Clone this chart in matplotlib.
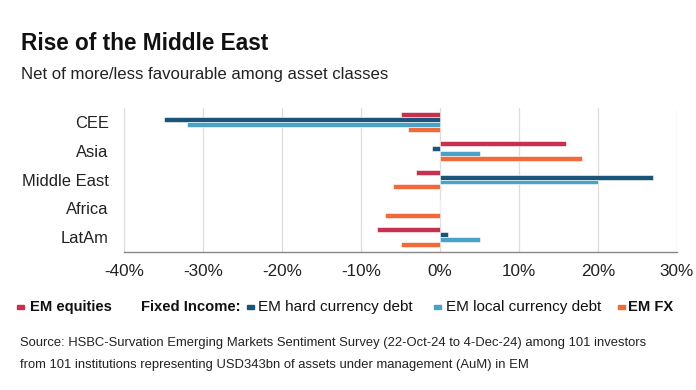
import matplotlib
matplotlib.use("Agg")
import matplotlib.pyplot as plt
import numpy as np
from matplotlib.patches import Rectangle

plt.rcParams['font.family'] = ['Liberation Sans', 'DejaVu Sans']

regions = ["CEE", "Asia", "Middle East", "Africa", "LatAm"]
em_equities = [-5, 16, -3, 0, -8]
em_hard_debt = [-35, -1, 27, 0, 1]
em_local_debt = [-32, 5, 20, 0, 5]
em_fx = [-4, 18, -6, -7, -5]
x_ticks = [-40, -30, -20, -10, 0, 10, 20, 30]
x_tick_labels = ["-40%", "-30%", "-20%", "-10%", "0%", "10%", "20%", "30%"]

series = [em_equities, em_hard_debt, em_local_debt, em_fx]
colors = ["#C8304F", "#1B5479", "#4AA2C8", "#F06A3A"]

W, H = 696, 390
fig = plt.figure(figsize=(W / 100, H / 100), dpi=100)
ax = fig.add_axes([124 / W, 1 - 251.5 / H, (677 - 124) / W, (251.5 - 107.7) / H])

y = np.arange(len(regions))
h = 0.17
for i, (vals, c) in enumerate(zip(series, colors)):
    ax.barh(y + (i - 1.5) * h, vals, height=h, color=c, edgecolor="#ffffff",
            linewidth=0.4, zorder=3)

ax.set_xlim(-40, 30)
ax.set_ylim(len(regions) - 0.5, -0.5)
ax.set_yticks(y)
ax.set_yticklabels(regions, fontsize=11.9, color="#222222")
ax.set_xticks(x_ticks)
ax.set_xticklabels(x_tick_labels, fontsize=12.3, color="#222222")
for lbl in ax.get_yticklabels():
    lbl.set_verticalalignment("center_baseline")
ax.tick_params(axis="both", length=0)
ax.tick_params(axis="y", pad=11)
ax.tick_params(axis="x", pad=9)
ax.grid(axis="x", color="#dddddd", linewidth=0.9, zorder=0)
for s in ["top", "right"]:
    ax.spines[s].set_visible(False)
ax.spines["left"].set_color("#dddddd")
ax.spines["bottom"].set_color("#888888")
ax.spines["bottom"].set_linewidth(1.0)

fig.text(21 / W, 1 - 49.5 / H, "Rise of the Middle East", fontsize=16.3,
         fontweight="bold", color="#111111", ha="left", va="baseline")
fig.text(21 / W, 1 - 78.5 / H, "Net of more/less favourable among asset classes",
         fontsize=12.1, color="#222222", ha="left", va="baseline")

# legend
leg_base = 1 - 311 / H
items = [
    (17, colors[0], 30, "EM equities", "bold"),
    (None, None, 141, "Fixed Income:", "bold"),
    (247, colors[1], 258, "EM hard currency debt", "normal"),
    (434, colors[2], 446, "EM local currency debt", "normal"),
    (618, colors[3], 628, "EM FX", "bold"),
]
for mx, mc, tx, label, wt in items:
    if mx is not None:
        fig.patches.append(Rectangle((mx / W, 1 - 309 / H), 6.5 / W, 4.5 / H,
                                     transform=fig.transFigure, color=mc))
    fig.text(tx / W, leg_base, label, fontsize=10.6 if wt == "bold" else 11,
             fontweight=wt, color="#111111", ha="left", va="baseline")

fig.text(20 / W, 1 - 346 / H,
         "Source: HSBC-Survation Emerging Markets Sentiment Survey (22-Oct-24 to 4-Dec-24) among 101 investors",
         fontsize=9.33, color="#222222", ha="left", va="baseline")
fig.text(20 / W, 1 - 368 / H,
         "from 101 institutions representing USD343bn of assets under management (AuM) in EM",
         fontsize=9.33, color="#222222", ha="left", va="baseline")

fig.savefig("out.png", dpi=100)
